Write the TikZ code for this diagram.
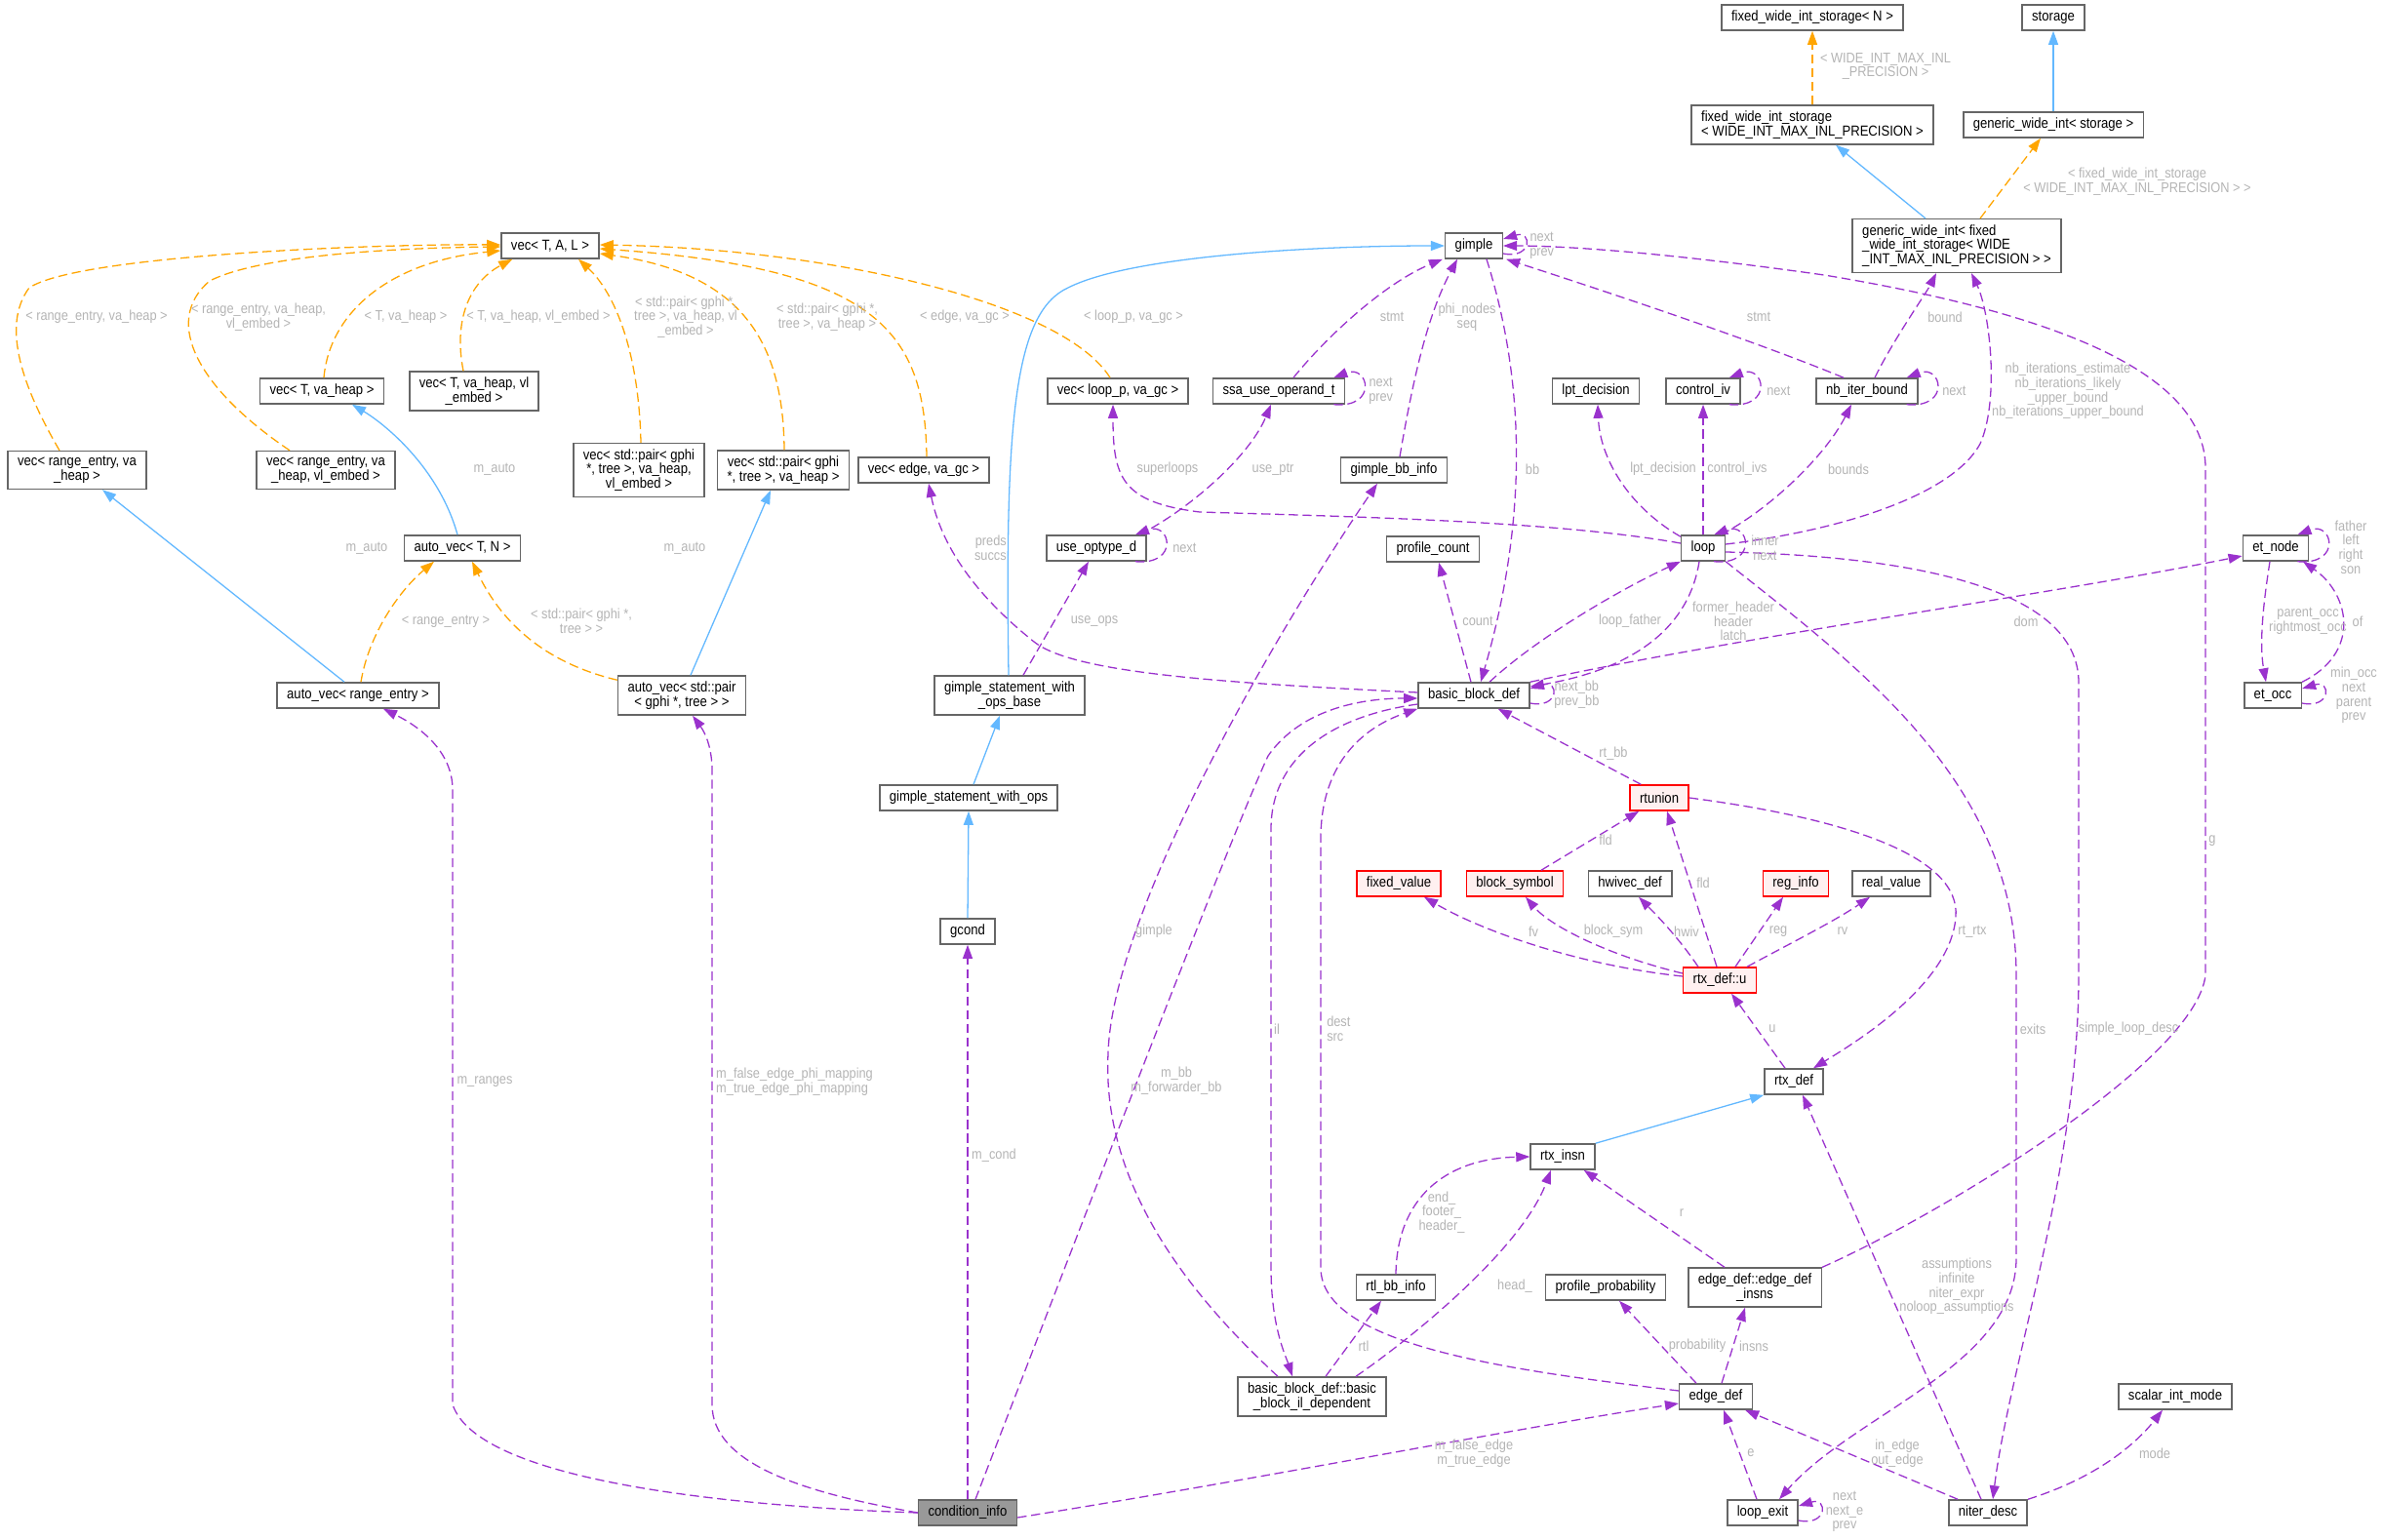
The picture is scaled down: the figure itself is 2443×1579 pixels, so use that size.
\documentclass[tikz,border=0pt]{standalone}
\usepackage{fontspec}
\setmainfont[FakeStretch=0.88]{Liberation Sans}
\usetikzlibrary{arrows.meta,calc}
\definecolor{usageedge}{HTML}{9A32CD}
\definecolor{inheritedge}{HTML}{63B8FF}
\definecolor{templedge}{HTML}{FFA500}
\definecolor{boxline}{HTML}{666666}
\definecolor{labeltext}{HTML}{B4B4B4}
\definecolor{redfill}{HTML}{FFF0F0}
\definecolor{curfill}{HTML}{999999}
\newcommand\boxfont{\fontsize{12.7}{12.6}\selectfont}
\newcommand\lblfont{\fontsize{12.4}{12.6}\selectfont}
\begin{document}
\begin{tikzpicture}[x=0.03cm, y=-0.03cm,
    cls/.style={draw=boxline, fill=white, line width=1.3pt, font=\boxfont, align=center, inner xsep=0.3cm, inner ysep=0.17cm, minimum height=0.78cm},
    redcls/.style={cls, draw=red, fill=redfill},
    curcls/.style={cls, fill=curfill},
    lbl/.style={font=\lblfont, text=labeltext, align=center, inner sep=0pt},
    usage/.style={draw=usageedge, line width=1.1pt, dash pattern=on 8pt off 4pt, -{Triangle[length=12pt,width=8.5pt]}},
    inherit/.style={draw=inheritedge, line width=1.1pt, -{Triangle[length=12pt,width=8.5pt]}},
    templ/.style={draw=templedge, line width=1.1pt, dash pattern=on 8pt off 4pt, -{Triangle[length=12pt,width=8.5pt]}}]
        \useasboundingbox (0,0) rectangle (2443,1579);
        \node[curcls] (cinfo) at (992,1551) {condition\_info};
        \node[cls] (avre) at (367,713) {auto\_vec< range\_entry >};
        \node[cls] (avp) at (699,713) {auto\_vec< std::pair\\< gphi *, tree > >};
        \node[cls] (avtn) at (474,562) {auto\_vec< T, N >};
        \node[cls] (vreh) at (79,482) {vec< range\_entry, va\\\_heap >};
        \node[cls] (vrehe) at (334,482) {vec< range\_entry, va\\\_heap, vl\_embed >};
        \node[cls] (vth) at (330,401) {vec< T, va\_heap >};
        \node[cls] (vthe) at (486,401) {vec< T, va\_heap, vl\\\_embed >};
        \node[cls] (vtal) at (564,252) {vec< T, A, L >};
        \node[cls] (vphe) at (655,482) {vec< std::pair< gphi\\{*}, tree >, va\_heap,\\vl\_embed >};
        \node[cls] (vph) at (803,482) {vec< std::pair< gphi\\{*}, tree >, va\_heap >};
        \node[cls] (vedge) at (947,482) {vec< edge, va\_gc >};
        \node[cls] (vloop) at (1146,401) {vec< loop\_p, va\_gc >};
        \node[cls] (ssa) at (1311,401) {ssa\_use\_operand\_t};
        \node[cls] (gimple) at (1511,252) {gimple};
        \node[cls] (gbb) at (1429,482) {gimple\_bb\_info};
        \node[cls] (useop) at (1124,562) {use\_optype\_d};
        \node[cls] (gswob) at (1035,713) {gimple\_statement\_with\\\_ops\_base};
        \node[cls] (gswo) at (993,818) {gimple\_statement\_with\_ops};
        \node[cls] (gcond) at (992,955) {gcond};
        \node[cls] (pcount) at (1469,563) {profile\_count};
        \node[cls] (bbdef) at (1511,713) {basic\_block\_def};
        \node[cls] (loop) at (1746,562) {loop};
        \node[cls] (lpt) at (1636,401) {lpt\_decision};
        \node[cls] (civ) at (1746,401) {control\_iv};
        \node[cls] (nbib) at (1914,401) {nb\_iter\_bound};
        \node[cls, align=left] (gwif) at (2006,252) {generic\_wide\_int< fixed\\\_wide\_int\_storage< WIDE\\\_INT\_MAX\_INL\_PRECISION > >};
        \node[cls, align=left] (fwis) at (1858,128) {fixed\_wide\_int\_storage\\< WIDE\_INT\_MAX\_INL\_PRECISION >};
        \node[cls] (fwin) at (1858,18) {fixed\_wide\_int\_storage< N >};
        \node[cls] (gwis) at (2105,128) {generic\_wide\_int< storage >};
        \node[cls] (storage) at (2105,18) {storage};
        \node[cls] (etnode) at (2333,562) {et\_node};
        \node[cls] (etocc) at (2330,713) {et\_occ};
        \node[redcls] (rtunion) at (1701,818) {rtunion};
        \node[redcls] (fixv) at (1434,906) {fixed\_value};
        \node[redcls] (bsym) at (1553,906) {block\_symbol};
        \node[cls] (hwiv) at (1671,906) {hwivec\_def};
        \node[redcls] (reginfo) at (1841,906) {reg\_info};
        \node[cls] (realv) at (1939,906) {real\_value};
        \node[redcls] (rtxu) at (1763,1005) {rtx\_def::u};
        \node[cls] (rtxdef) at (1839,1109) {rtx\_def};
        \node[cls] (rtxinsn) at (1602,1186) {rtx\_insn};
        \node[cls] (rtlbb) at (1431,1320) {rtl\_bb\_info};
        \node[cls] (pprob) at (1646,1320) {profile\_probability};
        \node[cls] (edinsns) at (1799,1320) {edge\_def::edge\_def\\\_insns};
        \node[cls] (bbil) at (1345,1432) {basic\_block\_def::basic\\\_block\_il\_dependent};
        \node[cls] (edgedef) at (1759,1432) {edge\_def};
        \node[cls] (lexit) at (1807,1551) {loop\_exit};
        \node[cls] (niter) at (2038,1551) {niter\_desc};
        \node[cls] (simode) at (2230,1432) {scalar\_int\_mode};

        \draw[templ] ($(vreh.north)+(-18,0)$) .. controls (25,400) and (0,335) .. (30,295) .. controls (80,262) and (380,250) .. ($(vtal.west)+(0,-1)$);
        \draw[templ] ($(vrehe.north)+(-37,0)$) .. controls (205,400) and (165,330) .. (215,288) .. controls (270,260) and (420,254) .. ($(vtal.west)+(0,1)$);
        \draw[templ] ($(vth.north)+(2,0)$) .. controls (338,320) and (400,268) .. ($(vtal.west)+(0,5)$);
        \draw[templ] ($(vthe.north)+(-11,0)$) .. controls (465,330) and (480,290) .. ($(vtal.south west)+(12,0)$);
        \draw[templ] ($(vphe.north)+(2,0)$) .. controls (655,360) and (630,300) .. ($(vtal.south)+(29,0)$);
        \draw[templ] ($(vph.north)+(1,0)$) .. controls (803,350) and (760,280) .. ($(vtal.east)+(0,8)$);
        \draw[templ] ($(vedge.north)+(3,0)$) .. controls (948,340) and (900,275) .. ($(vtal.east)+(0,3)$);
        \draw[templ] ($(vloop.north)+(-8,0)$) .. controls (1090,310) and (850,255) .. ($(vtal.east)+(0,-1)$);
        \draw[templ] ($(avre.north)+(3,0)$) .. controls (378,650) and (410,605) .. ($(avtn.south)+(-29,0)$);
        \draw[templ] ($(avp.north west)+(0,5)$) .. controls (560,680) and (515,640) .. ($(avtn.south)+(10,0)$);
        \draw[templ] (fwis.north) -- (fwin.south);
        \draw[templ] ($(gwif.north)+(24,0)$) -- ($(gwis.south)+(-13,0)$);

        \draw[inherit] ($(gwif.north)+(-32,0)$) -- ($(fwis.south)+(24,0)$);
        \draw[inherit] (gwis.north) -- (storage.south);
        \draw[inherit] ($(avre.north)+(-14,0)$) -- ($(vreh.south)+(26,0)$);
        \draw[inherit] ($(avtn.north)+(-5,0)$) .. controls (450,480) and (395,435) .. ($(vth.south)+(31,0)$);
        \draw[inherit] ($(avp.north)+(9,0)$) -- ($(vph.south)+(-13,0)$);
        \draw[inherit] ($(gswob.north)+(-1,0)$) .. controls (1030,430) and (1040,320) .. (1095,295) .. controls (1160,262) and (1350,252) .. (gimple.west);
        \draw[inherit] ($(gswo.north)+(5,0)$) -- ($(gswob.south)+(-10,0)$);
        \draw[inherit] (gcond.north) -- (gswo.south);
        \draw[inherit] (rtxinsn.north east) -- (rtxdef.south west);

        \draw[usage] (cinfo.west) .. controls (760,1545) and (490,1520) .. (464,1440) -- (464,810) .. controls (464,770) and (430,745) .. ($(avre.south)+(26,0)$);
        \draw[usage] (cinfo.west) .. controls (820,1530) and (730,1500) .. (730,1440) -- (730,790) .. controls (730,765) and (722,750) .. ($(avp.south)+(11,0)$);
        \draw[usage] (cinfo.north) -- (gcond.south);
        \draw[usage] ($(cinfo.north)+(8,0)$) .. controls (1130,1200) and (1265,850) .. (1300,775) .. controls (1335,725) and (1400,716) .. ($(bbdef.west)+(0,3)$);
        \draw[usage] ($(cinfo.east)+(0,5)$) .. controls (1300,1515) and (1550,1465) .. ($(edgedef.west)+(0,7)$);
        \draw[usage] ($(gimple.south)+(13,0)$) .. controls (1560,380) and (1570,520) .. ($(bbdef.north)+(7,0)$);
        \draw[usage] ($(ssa.north)+(15,0)$) .. controls (1360,345) and (1420,290) .. ($(gimple.south west)+(-2,0)$);
        \draw[usage] ($(gbb.north)+(6,0)$) .. controls (1450,380) and (1465,320) .. ($(gimple.south)+(-17,0)$);
        \draw[usage] ($(useop.north east)+(-8,0)$) .. controls (1215,525) and (1280,470) .. ($(ssa.south)+(-8,0)$);
        \draw[usage] ($(gswob.north)+(14,0)$) -- ($(useop.south)+(-8,0)$);
        \draw[usage] ($(loop.west)+(0,-5)$) .. controls (1600,535) and (1400,530) .. (1230,525) .. controls (1150,515) and (1141,490) .. ($(vloop.south)+(-5,0)$);
        \draw[usage] ($(bbdef.west)+(0,-3)$) .. controls (1250,700) and (1100,690) .. (1060,658) .. controls (1000,610) and (965,560) .. ($(vedge.south)+(5,0)$);
        \draw[usage] ($(bbdef.north)+(-3,0)$) -- ($(pcount.south)+(6,0)$);
        \draw[usage] ($(bbdef.north)+(16,0)$) .. controls (1580,650) and (1670,600) .. (loop.south west);
        \draw[usage] ($(loop.south)+(-4,0)$) .. controls (1732,640) and (1680,685) .. ($(bbdef.east)+(0,-9)$);
        \draw[usage] ($(rtunion.north west)+(12,0)$) -- ($(bbdef.south east)+(-33,0)$);
        \draw[usage] (bbdef.north east) .. controls (1800,650) and (2100,610) .. ($(etnode.west)+(0,8)$);
        \draw[usage] ($(loop.north west)+(0,2)$) .. controls (1670,520) and (1640,470) .. ($(lpt.south)+(2,0)$);
        \draw[usage] (loop.north) -- (civ.south);
        \draw[usage] ($(loop.north east)+(-5,0)$) .. controls (1810,525) and (1870,470) .. ($(nbib.south)+(-16,0)$);
        \draw[usage] ($(nbib.north)+(-24,0)$) .. controls (1800,350) and (1650,300) .. ($(gimple.south east)+(3,0)$);
        \draw[usage] ($(nbib.north)+(8,0)$) .. controls (1940,350) and (1975,300) .. ($(gwif.south)+(-21,0)$);
        \draw[usage] ($(loop.east)+(0,-4)$) .. controls (1880,545) and (2000,510) .. (2030,455) .. controls (2050,410) and (2040,320) .. ($(gwif.south)+(15,0)$);
        \draw[usage] ($(loop.east)+(0,4)$) .. controls (1950,570) and (2131,600) .. (2131,700) -- (2131,1000) .. controls (2131,1200) and (2060,1400) .. ($(niter.north)+(5,0)$);
        \draw[usage] (loop.south east) .. controls (1900,680) and (2067,800) .. (2067,1000) -- (2067,1290) .. controls (2067,1400) and (1900,1450) .. ($(lexit.north)+(17,0)$);
        \draw[usage] ($(lexit.north)+(-6,0)$) -- ($(edgedef.south)+(8,0)$);
        \draw[usage] ($(niter.north west)+(10,0)$) -- ($(edgedef.south east)+(-8,0)$);
        \draw[usage] ($(niter.north)+(-7,0)$) -- ($(rtxdef.south)+(9,0)$);
        \draw[usage] (niter.north east) .. controls (2150,1515) and (2190,1480) .. ($(simode.south)+(-13,0)$);
        \draw[usage] ($(edgedef.north)+(-20,0)$) -- ($(pprob.south)+(14,0)$);
        \draw[usage] ($(edgedef.north)+(6,0)$) -- ($(edinsns.south)+(-10,0)$);
        \draw[usage] ($(edinsns.north west)+(38,0)$) -- ($(rtxinsn.south east)+(-12,0)$);
        \draw[usage] (edinsns.north east) .. controls (1980,1250) and (2250,1090) .. (2261,1000) -- (2261,480) .. controls (2261,380) and (2100,320) .. (1870,282) .. controls (1700,258) and (1600,252) .. (gimple.east);
        \draw[usage] (rtunion.east) .. controls (1900,840) and (2010,880) .. (2005,940) .. controls (2000,1010) and (1900,1070) .. ($(rtxdef.north)+(20,0)$);
        \draw[usage] ($(rtxdef.north)+(-9,0)$) -- ($(rtxu.south)+(12,0)$);
        \draw[usage] ($(rtxu.north)+(-3,0)$) -- ($(rtunion.south)+(8,0)$);
        \draw[usage] ($(bsym.north)+(27,0)$) -- ($(rtunion.south west)+(10,0)$);
        \draw[usage] ($(rtxu.west)+(0,-4)$) .. controls (1620,990) and (1520,955) .. ($(fixv.south)+(26,0)$);
        \draw[usage] ($(rtxu.west)+(0,-7)$) .. controls (1650,980) and (1590,950) .. ($(bsym.south)+(11,0)$);
        \draw[usage] ($(rtxu.north west)+(16,0)$) .. controls (1720,960) and (1695,935) .. ($(hwiv.south)+(9,0)$);
        \draw[usage] ($(rtxu.north)+(16,0)$) -- ($(reginfo.south)+(-13,0)$);
        \draw[usage] ($(rtxu.north east)+(-10,0)$) .. controls (1830,970) and (1880,945) .. ($(realv.south)+(-22,0)$);
        \draw[usage] (rtlbb.north) .. controls (1432,1230) and (1480,1188) .. (rtxinsn.west);
        \draw[usage] ($(bbil.north)+(14,0)$) -- ($(rtlbb.south)+(-15,0)$);
        \draw[usage] ($(bbil.north)+(45,0)$) .. controls (1450,1370) and (1560,1280) .. ($(rtxinsn.south)+(-12,0)$);
        \draw[usage] ($(bbdef.west)+(0,9)$) .. controls (1360,735) and (1303,780) .. (1303,850) -- (1303,1300) .. controls (1303,1360) and (1318,1390) .. ($(bbil.north)+(-20,0)$);
        \draw[usage] ($(edgedef.west)+(0,-6)$) .. controls (1550,1405) and (1354,1380) .. (1354,1300) -- (1354,860) .. controls (1354,780) and (1400,745) .. (bbdef.south west);
        \draw[usage] ($(bbil.north)+(-35,0)$) .. controls (1200,1310) and (1130,1200) .. (1136,1080) .. controls (1140,940) and (1300,660) .. ($(gbb.south)+(-17,0)$);
        \draw[usage] ($(etnode.south)+(-6,0)$) .. controls (2320,620) and (2316,660) .. ($(etocc.north)+(-7,0)$);
        \draw[usage] (etocc.north east) .. controls (2420,670) and (2410,610) .. ($(etnode.south)+(28,0)$);
        \foreach \s in {ssa,useop,loop,civ,nbib,etnode}
        \draw[usage] ($(\s.south east)+(-12,0)$) .. controls ($(\s.south east)+(34,4)$) and ($(\s.north east)+(24,-14)$) .. ($(\s.north east)+(-12,0)$);
        \foreach \s in {gimple,bbdef,etocc,lexit}
        \draw[usage] ($(\s.east)+(0,8)$) .. controls ($(\s.east)+(30,14)$) and ($(\s.east)+(30,-16)$) .. ($(\s.east)+(0,-7)$);

        \node[lbl] (l-vreh) at (99,325) {< range\_entry, va\_heap >};
        \node[lbl] (l-vrehe) at (265,325) {< range\_entry, va\_heap,\\vl\_embed >};
        \node[lbl] (l-vth) at (416,325) {< T, va\_heap >};
        \node[lbl] (l-vthe) at (552,325) {< T, va\_heap, vl\_embed >};
        \node[lbl] (l-vphe) at (703,325) {< std::pair< gphi *,\\tree >, va\_heap, vl\\\_embed >};
        \node[lbl] (l-vph) at (848,325) {< std::pair< gphi *,\\tree >, va\_heap >};
        \node[lbl] (l-vedge) at (989,325) {< edge, va\_gc >};
        \node[lbl] (l-vloop) at (1162,325) {< loop\_p, va\_gc >};
        \node[lbl] (l-mauto1) at (376,562) {m\_auto};
        \node[lbl] (l-mauto2) at (507,481) {m\_auto};
        \node[lbl] (l-mauto3) at (702,562) {m\_auto};
        \node[lbl] (l-avre) at (457,637) {< range\_entry >};
        \node[lbl] (l-avp) at (596,637) {< std::pair< gphi *,\\tree > >};
        \node[lbl] (l-fwis) at (1933,68) {< WIDE\_INT\_MAX\_INL\\\_PRECISION >};
        \node[lbl] (l-gwif) at (2191,186) {< fixed\_wide\_int\_storage\\< WIDE\_INT\_MAX\_INL\_PRECISION > >};
        \node[lbl] (l-mranges) at (497,1109) {m\_ranges};
        \node[lbl, anchor=west, align=left] (l-mphi) at (734,1109) {m\_false\_edge\_phi\_mapping\\m\_true\_edge\_phi\_mapping};
        \node[lbl, anchor=west] (l-mcond) at (996,1185) {m\_cond};
        \node[lbl] (l-mbb) at (1206,1108) {m\_bb\\m\_forwarder\_bb};
        \node[lbl] (l-medge) at (1511,1490) {m\_false\_edge\\m\_true\_edge};
        \node[lbl] (l-bb) at (1571,481) {bb};
        \node[lbl, anchor=west] (l-gnext) at (1568,252) {next\\prev};
        \node[lbl] (l-stmt1) at (1427,325) {stmt};
        \node[lbl, anchor=west] (l-ssanext) at (1403,401) {next\\prev};
        \node[lbl] (l-phi) at (1504,325) {phi\_nodes\\seq};
        \node[lbl] (l-useptr) at (1305,481) {use\_ptr};
        \node[lbl, anchor=west] (l-usenext) at (1202,562) {next};
        \node[lbl] (l-useops) at (1122,637) {use\_ops};
        \node[lbl] (l-superloops) at (1197,481) {superloops};
        \node[lbl, anchor=east, align=right] (l-preds) at (1032,562) {preds\\succs};
        \node[lbl] (l-count) at (1515,637) {count};
        \node[lbl] (l-loopfather) at (1671,637) {loop\_father};
        \node[lbl] (l-header) at (1777,637) {former\_header\\header\\latch};
        \node[lbl, anchor=west] (l-nextbb) at (1593,712) {next\_bb\\prev\_bb};
        \node[lbl] (l-rtbb) at (1654,773) {rt\_bb};
        \node[lbl] (l-dom) at (2077,637) {dom};
        \node[lbl, anchor=west] (l-inner) at (1795,562) {inner\\next};
        \node[lbl] (l-lpt) at (1705,481) {lpt\_decision};
        \node[lbl] (l-civ) at (1781,481) {control\_ivs};
        \node[lbl, anchor=west] (l-civnext) at (1811,401) {next};
        \node[lbl] (l-bounds) at (1895,481) {bounds};
        \node[lbl, anchor=west] (l-nbnext) at (1991,401) {next};
        \node[lbl] (l-stmt2) at (1803,325) {stmt};
        \node[lbl] (l-bound) at (1994,325) {bound};
        \node[lbl] (l-nbiter) at (2120,401) {nb\_iterations\_estimate\\nb\_iterations\_likely\\\_upper\_bound\\nb\_iterations\_upper\_bound};
        \node[lbl] (l-simple) at (2182,1055) {simple\_loop\_desc};
        \node[lbl] (l-exits) at (2084,1055) {exits};
        \node[lbl] (l-lenext) at (1891,1550) {next\\next\_e\\prev};
        \node[lbl] (l-e) at (1795,1490) {e};
        \node[lbl] (l-inedge) at (1945,1490) {in\_edge\\out\_edge};
        \node[lbl] (l-assume) at (2006,1319) {assumptions\\infinite\\niter\_expr\\noloop\_assumptions};
        \node[lbl] (l-mode) at (2209,1490) {mode};
        \node[lbl] (l-prob) at (1740,1380) {probability};
        \node[lbl] (l-insns) at (1798,1380) {insns};
        \node[lbl] (l-r) at (1724,1244) {r};
        \node[lbl] (l-g) at (2268,862) {g};
        \node[lbl] (l-rtrtx) at (2022,955) {rt\_rtx};
        \node[lbl] (l-u) at (1817,1055) {u};
        \node[lbl] (l-fld1) at (1746,905) {fld};
        \node[lbl] (l-fld2) at (1646,861) {fld};
        \node[lbl] (l-fv) at (1572,955) {fv};
        \node[lbl] (l-blocksym) at (1654,955) {block\_sym};
        \node[lbl] (l-hwiv) at (1729,955) {hwiv};
        \node[lbl] (l-reg) at (1823,955) {reg};
        \node[lbl] (l-rv) at (1889,955) {rv};
        \node[lbl] (l-end) at (1478,1243) {end\_\\footer\_\\header\_};
        \node[lbl] (l-rtl) at (1398,1380) {rtl};
        \node[lbl] (l-head) at (1553,1319) {head\_};
        \node[lbl] (l-il) at (1309,1055) {il};
        \node[lbl, anchor=west, align=left] (l-dest) at (1360,1055) {dest\\src};
        \node[lbl] (l-gimple) at (1183,955) {gimple};
        \node[lbl] (l-parentocc) at (2366,637) {parent\_occ\\rightmost\_occ};
        \node[lbl] (l-of) at (2417,637) {of};
        \node[lbl] (l-father) at (2410,561) {father\\left\\right\\son};
        \node[lbl] (l-minocc) at (2413,713) {min\_occ\\next\\parent\\prev};
    \end{tikzpicture}
\end{document}
